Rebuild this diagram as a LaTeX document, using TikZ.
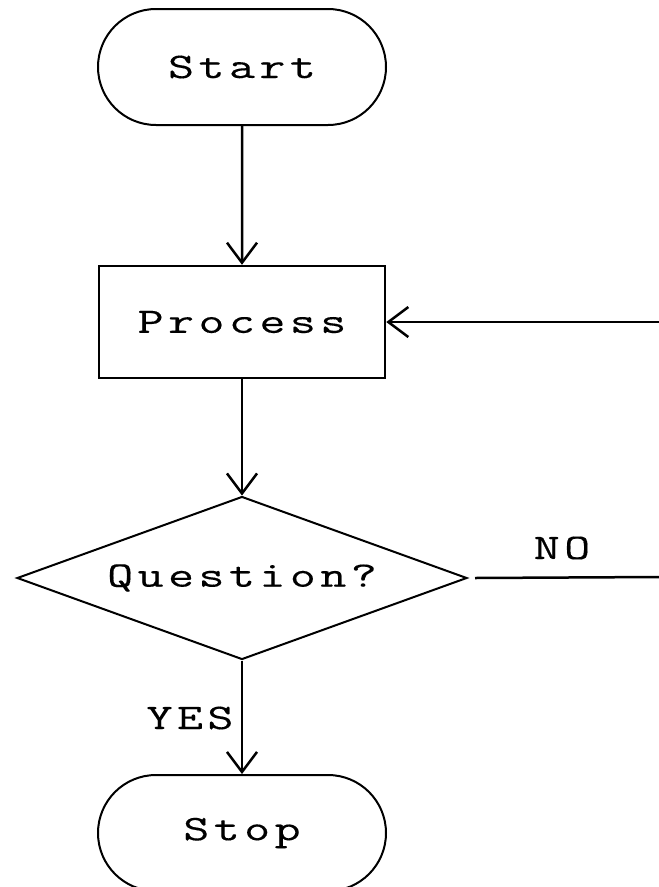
\documentclass[tikz,border=0pt]{standalone}
\usepackage{fontspec}
\setmonofont{Latin Modern Mono}[LetterSpace=12.5, FakeStretch=1.4, FakeBold=0.3]
\usetikzlibrary{arrows.meta,shapes.misc,shapes.geometric}
\tikzset{
  term/.style={rounded rectangle, draw, line width=2pt, minimum width=288pt, minimum height=116pt, inner sep=0pt},
  procbox/.style={rectangle, draw, line width=2.5pt, minimum width=286pt, minimum height=112pt, inner sep=0pt},
  decision/.style={diamond, draw, line width=2pt, minimum width=450pt, minimum height=163pt, inner sep=0pt, aspect=2.76},
  conn/.style={line width=2.5pt, -{Straight Barb[length=20pt,width=30pt,line width=2.5pt]}},
  plain/.style={line width=2.5pt},
  lbl/.style={inner sep=0pt, font=\ttfamily\fontsize{36}{40}\selectfont}
}
\begin{document}
\begin{tikzpicture}[x=1pt,y=-1pt, font=\ttfamily\fontsize{36}{40}\selectfont]
\useasboundingbox[fill=white] (0,0) rectangle (659,887);
\node[term] (start) at (242,67) {Start};
\node[procbox] (proc) at (242,322) {Process};
\node[decision] (q) at (242,578) {Question?};
\node[term] (stop) at (242,833) {Stop};
\coordinate (loopin) at (659,322);
\coordinate (noend) at (659,577);
\draw[conn] (start) -- (proc);
\draw[conn] (proc) -- (q);
\draw[conn] (q) -- (stop);
\draw[conn] (loopin) -- (proc.east);
\draw[plain] ([xshift=7pt]q.east) -- (noend);
\node[lbl] (no) at (562,548) {NO};
\node[lbl] (yes) at (190,718) {YES};
\end{tikzpicture}
\end{document}
